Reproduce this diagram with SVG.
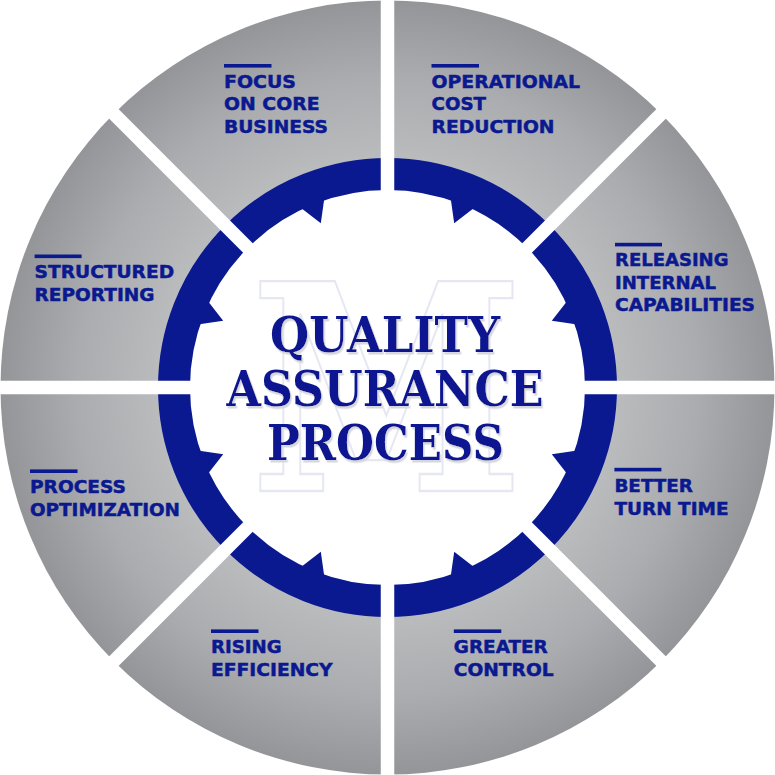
<svg xmlns="http://www.w3.org/2000/svg" width="775" height="775" viewBox="0 0 775 775">
  <defs>
    <radialGradient id="grayGrad" gradientUnits="userSpaceOnUse" cx="387.5" cy="387.5" r="387">
      <stop offset="0.58" stop-color="#bbbcbe"/>
      <stop offset="0.8" stop-color="#abacaf"/>
      <stop offset="1" stop-color="#949599"/>
    </radialGradient>
    <filter id="titleShadow" x="-5%" y="-20%" width="110%" height="150%">
      <feDropShadow dx="1.5" dy="2.5" stdDeviation="0.4" flood-color="#d6d7de" flood-opacity="1"/>
    </filter>
    <polygon id="tooth" points="63.1,-189.8 66.7,-164.3 87.1,-180.1"/>
    <style>
      .blue { fill: #0a1990; }
      .bar { fill: #0a1990; }
      .lbl { font-family: "DejaVu Sans", Verdana, sans-serif; font-weight: bold; font-size: 16.8px; fill: #0a1990; stroke: #0a1990; stroke-width: 0.45px; }
      .title { font-family: "DejaVu Serif", "Liberation Serif", serif; font-weight: bold; font-size: 48px; fill: #0a1990; }
      .spoke { stroke: #ffffff; stroke-width: 13.5; }
    </style>
  </defs>

  <!-- background wheel -->
  <g id="wheel">
    <circle cx="387.5" cy="387.5" r="387" fill="url(#grayGrad)"/>
    <circle cx="387.5" cy="387.5" r="213.5" fill="#ffffff" stroke="#0a1990" stroke-width="32"/>
    <g class="blue" transform="translate(387.5,387.5)">
      <use href="#tooth"/>
      <use href="#tooth" transform="rotate(90)"/>
      <use href="#tooth" transform="rotate(180)"/>
      <use href="#tooth" transform="rotate(270)"/>
      <use href="#tooth" transform="scale(-1,1)"/>
      <use href="#tooth" transform="rotate(90) scale(-1,1)"/>
      <use href="#tooth" transform="rotate(180) scale(-1,1)"/>
      <use href="#tooth" transform="rotate(270) scale(-1,1)"/>
    </g>
    <g class="spoke" transform="translate(387.5,387.5)">
      <line x1="0" y1="-185" x2="0" y2="-400"/>
      <line x1="0" y1="185" x2="0" y2="400"/>
      <line x1="-185" y1="0" x2="-400" y2="0"/>
      <line x1="185" y1="0" x2="400" y2="0"/>
      <line x1="130.8" y1="-130.8" x2="283" y2="-283"/>
      <line x1="-130.8" y1="-130.8" x2="-283" y2="-283"/>
      <line x1="130.8" y1="130.8" x2="283" y2="283"/>
      <line x1="-130.8" y1="130.8" x2="-283" y2="283"/>
    </g>
  </g>

  <!-- watermark -->
  <g id="watermark">
    <text transform="translate(387,491) scale(0.86,1)" text-anchor="middle" font-family="DejaVu Serif, serif" font-weight="bold" font-size="288" fill="none" stroke="#e5e7f2" stroke-width="2.3">M</text>
  </g>

  <!-- center title -->
  <g id="center-title" filter="url(#titleShadow)">
    <text class="title" x="270" y="351.5" textLength="230" lengthAdjust="spacingAndGlyphs">QUALITY</text>
    <text class="title" x="226.5" y="405.5" textLength="317" lengthAdjust="spacingAndGlyphs">ASSURANCE</text>
    <text class="title" x="267" y="459.5" textLength="237" lengthAdjust="spacingAndGlyphs">PROCESS</text>
  </g>

  <g id="node-focus">
    <rect class="bar" x="224" y="64" width="47.5" height="3.6"/>
    <text class="lbl" x="224" y="87.5" textLength="72" lengthAdjust="spacingAndGlyphs">FOCUS</text>
    <text class="lbl" x="224" y="110" textLength="95.5" lengthAdjust="spacingAndGlyphs">ON CORE</text>
    <text class="lbl" x="224" y="133" textLength="104" lengthAdjust="spacingAndGlyphs">BUSINESS</text>
  </g>

  <g id="node-operational">
    <rect class="bar" x="431.5" y="64" width="47.5" height="3.6"/>
    <text class="lbl" x="431.5" y="87.5" textLength="148.5" lengthAdjust="spacingAndGlyphs">OPERATIONAL</text>
    <text class="lbl" x="431.5" y="110" textLength="54.5" lengthAdjust="spacingAndGlyphs">COST</text>
    <text class="lbl" x="431.5" y="133" textLength="123" lengthAdjust="spacingAndGlyphs">REDUCTION</text>
  </g>

  <g id="node-releasing">
    <rect class="bar" x="615" y="242.8" width="47" height="3.6"/>
    <text class="lbl" x="615" y="266" textLength="113.5" lengthAdjust="spacingAndGlyphs">RELEASING</text>
    <text class="lbl" x="615" y="288.6" textLength="101" lengthAdjust="spacingAndGlyphs">INTERNAL</text>
    <text class="lbl" x="615" y="311.3" textLength="140" lengthAdjust="spacingAndGlyphs">CAPABILITIES</text>
  </g>

  <g id="node-structured">
    <rect class="bar" x="34.6" y="254.5" width="47" height="3.6"/>
    <text class="lbl" x="34.6" y="278" textLength="139.5" lengthAdjust="spacingAndGlyphs">STRUCTURED</text>
    <text class="lbl" x="34.6" y="301" textLength="120" lengthAdjust="spacingAndGlyphs">REPORTING</text>
  </g>

  <g id="node-process">
    <rect class="bar" x="30" y="469.4" width="47.5" height="3.6"/>
    <text class="lbl" x="30" y="493" textLength="96" lengthAdjust="spacingAndGlyphs">PROCESS</text>
    <text class="lbl" x="30" y="516" textLength="150" lengthAdjust="spacingAndGlyphs">OPTIMIZATION</text>
  </g>

  <g id="node-better">
    <rect class="bar" x="614.4" y="467.8" width="47" height="3.6"/>
    <text class="lbl" x="614.4" y="491.5" textLength="78.6" lengthAdjust="spacingAndGlyphs">BETTER</text>
    <text class="lbl" x="614.4" y="514.5" textLength="114.2" lengthAdjust="spacingAndGlyphs">TURN TIME</text>
  </g>

  <g id="node-rising">
    <rect class="bar" x="211" y="629.4" width="47.5" height="3.6"/>
    <text class="lbl" x="211" y="653.3" textLength="70.7" lengthAdjust="spacingAndGlyphs">RISING</text>
    <text class="lbl" x="211" y="676" textLength="121.6" lengthAdjust="spacingAndGlyphs">EFFICIENCY</text>
  </g>

  <g id="node-greater">
    <rect class="bar" x="453.8" y="629.4" width="47.5" height="3.6"/>
    <text class="lbl" x="453.8" y="653.3" textLength="94" lengthAdjust="spacingAndGlyphs">GREATER</text>
    <text class="lbl" x="453.8" y="676" textLength="99.8" lengthAdjust="spacingAndGlyphs">CONTROL</text>
  </g>
</svg>
